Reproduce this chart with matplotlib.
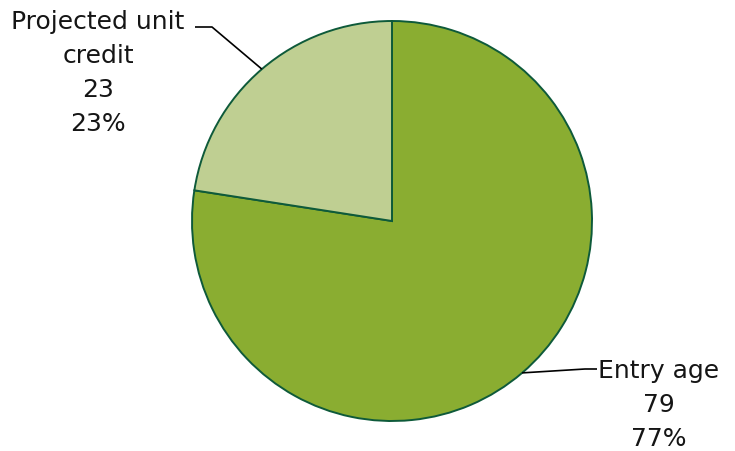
import matplotlib

matplotlib.use("Agg")
import matplotlib.pyplot as plt
import numpy as np

# pension valuation method breakdown
methods = ["Entry age", "Projected unit\ncredit"]
counts = [79, 23]
colors = ["#8aad31", "#bfcf92"]
edge_color = "#0e5a3a"

plt.rcParams["font.family"] = ["DejaVu Sans"]

fig = plt.figure(figsize=(7.35, 4.52), dpi=100)
ax = fig.add_axes([0, 0, 1, 1])

wedges, _ = ax.pie(
    counts,
    colors=colors,
    startangle=90,
    counterclock=False,
    radius=1.0,
    wedgeprops={"edgecolor": edge_color, "linewidth": 1.4},
)

ax.set_xlim(-1.96, 1.715)
ax.set_ylim(-1.15, 1.11)
ax.set_aspect("equal")
ax.axis("off")

total = sum(counts)
pcts = [round(c / total * 100) for c in counts]

# leader lines start at each wedge's mid angle; elbow + text placement per side
layout = [
    # (elbow x, elbow y, end x, text x, text top y)
    (0.965, -0.74, 1.025, 1.335, -0.685),
    (-0.9, 0.97, -0.985, -1.47, 1.058),
]
for w, name, c, p, (ex, ey, endx, tx, ty) in zip(wedges, methods, counts, pcts, layout):
    ang = np.deg2rad((w.theta1 + w.theta2) / 2)
    px, py = np.cos(ang), np.sin(ang)
    ax.plot([px, ex, endx], [py, ey, ey], color="black", lw=1.2, solid_capstyle="butt")
    ax.text(tx, ty, f"{name}\n{c}\n{p}%", ha="center", va="top",
            multialignment="center", fontsize=18, linespacing=1.52, color="#151515")

fig.savefig("out.png", dpi=100)
